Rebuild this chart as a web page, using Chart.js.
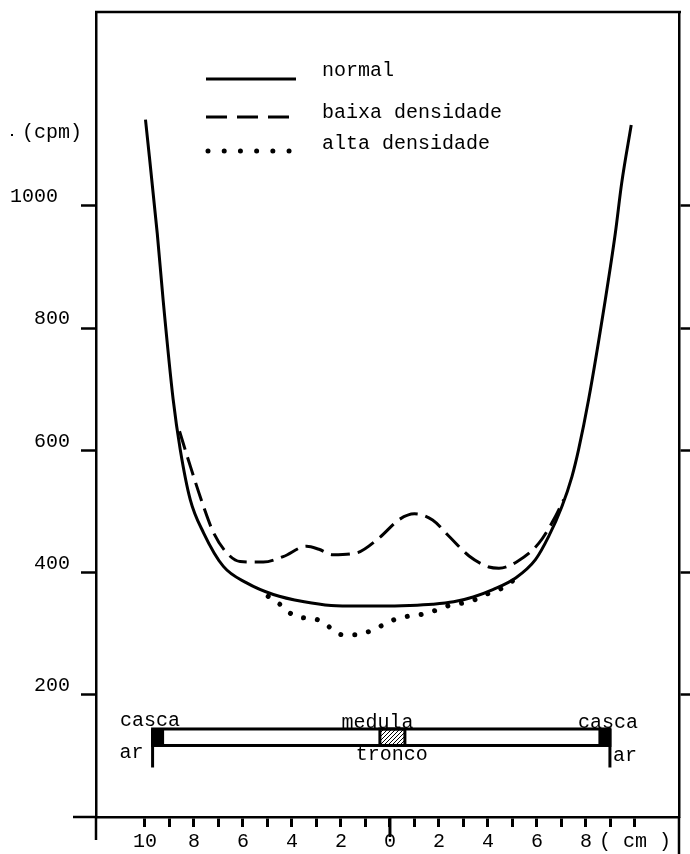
<!DOCTYPE html>
<html>
<head>
<meta charset="utf-8">
<script src="https://cdn.jsdelivr.net/npm/chart.js@4.4.1/dist/chart.umd.min.js"></script>
<style>
  html, body { margin: 0; padding: 0; background: #fff; }
  #wrap { width: 690px; height: 854px; }
</style>
</head>
<body>
<div id="wrap"><canvas id="grafico" width="690" height="854"></canvas></div>
<script>
// DADOS: posição no tronco (cm) x contagem (cpm)
const seriesNames = ['normal', 'baixa densidade', 'alta densidade']

const normalX = [-9.98, -9.5, -9.26, -8.85, -8.56, -8.15, -7.61, -6.8, -5.85, -4.76, -3.5, -2.4, -1.3, -0.3, 0.8, 1.74, 2.6, 3.4, 4.2, 5.13, 5.94, 6.48, 7.02, 7.43, 7.7, 8.11, 8.79, 9.2, 9.46, 9.85]
const normalY = [1141, 955, 846, 683, 601, 519, 465, 410, 383, 364, 352, 346, 345, 345, 346, 348, 352, 360, 372, 391, 421, 459, 508, 557, 601, 683, 846, 955, 1037, 1132]

const baixaX = [-8.59, -8.15, -7.61, -7.2, -6.66, -6.12, -5.17, -4.36, -3.4, -2.9, -2.33, -1.37, -0.43, 0.39, 1.0, 1.74, 2.42, 3.23, 4.04, 4.45, 5.2, 6.08, 6.76, 7.09]
const baixaY = [631, 574, 508, 465, 432, 418, 417, 426, 443, 438, 429, 432, 457, 487, 496, 486, 459, 427, 409, 407, 418, 448, 492, 519]

const altaX = [-4.97, -4.49, -4.09, -3.75, -3.2, -2.73, -2.33, -1.92, -1.35, -0.76, -0.29, 0.18, 0.68, 1.36, 1.94, 2.49, 3.1, 3.57, 3.98, 4.45, 4.79, 5.06]
const altaY = [361, 348, 334, 327, 325, 319, 306, 298, 298, 305, 314, 323, 328, 332, 339, 347, 351, 357, 365, 372, 379, 388]

// ticks
const xTicks = [-10, -9, -8, -7, -6, -5, -4, -3, -2, -1, 0, 1, 2, 3, 4, 5, 6, 7, 8, 9, 10]
const xTickLabels = ['10', '', '8', '', '6', '', '4', '', '2', '', '0', '', '2', '', '4', '', '6', '', '8', '', '( cm )']
const yTicks = [200, 400, 600, 800, 1000]
const yTickLabels = ['200', '400', '600', '800', '1000 ']

// esquema do tronco (em cm / cpm)
const tronco = { x0: -9.69, x1: 8.98, casca: 0.47, medula: [-0.41, 0.61], yTop: 144, yBot: 117, arFim: 81 }

const FONTE = "'Liberation Mono', 'DejaVu Sans Mono', monospace"
Chart.defaults.font.family = FONTE
Chart.defaults.font.size = 20
Chart.defaults.color = '#000'

const pontos = (xs, ys) => xs.map((v, i) => ({ x: v, y: ys[i] }))

function line(ctx, x1, y1, x2, y2) {
  ctx.beginPath(); ctx.moveTo(x1, y1); ctx.lineTo(x2, y2); ctx.stroke()
}

function texto(ctx, s, x, y, align) {
  ctx.textAlign = align || 'center'
  ctx.textBaseline = 'middle'
  ctx.fillText(s, x, y)
}

// padrão pontilhado da medula
function padraoMedula(ctx) {
  const c = document.createElement('canvas')
  c.width = 4; c.height = 4
  const p = c.getContext('2d')
  p.fillStyle = '#000'
  p.fillRect(0, 0, 1, 1); p.fillRect(2, 2, 1, 1); p.fillRect(1, 3, 1, 1); p.fillRect(3, 1, 1, 1)
  return ctx.createPattern(c, 'repeat')
}

// sem folga extra nos extremos dos eixos
const semFolga = s => { s.paddingTop = 0; s.paddingBottom = 0; s.paddingLeft = 0; s.paddingRight = 0 }

const extras = {
  id: 'extras',
  afterDraw(chart) {
    const { ctx, chartArea: a } = chart
    const x = chart.scales.x, y = chart.scales.y
    ctx.save()
    ctx.strokeStyle = '#000'
    ctx.fillStyle = '#000'
    ctx.font = '20px ' + FONTE

    // moldura e prolongamentos dos eixos
    ctx.lineWidth = 2.5
    line(ctx, a.left - 1, a.top, a.right + 2, a.top)
    line(ctx, a.left - 23, a.bottom, a.left, a.bottom)
    line(ctx, a.left, a.bottom, a.left, a.bottom + 23)
    line(ctx, a.right, a.bottom, a.right, chart.height)
    ctx.lineWidth = 3
    const x0 = x.getPixelForValue(0)
    line(ctx, x0, a.bottom, x0, a.bottom + 20)

    // unidade do eixo y
    texto(ctx, '(cpm)', 22, 133, 'left')
    ctx.fillRect(11, 134, 2, 2)

    // legenda
    chart.data.datasets.forEach((ds, i) => {
      const ly = [79, 117, 151][i]
      ctx.lineWidth = ds.borderWidth
      ctx.lineCap = ds.borderCapStyle || 'butt'
      ctx.setLineDash(i === 1 ? [21, 10] : (i === 2 ? [0.01, 16.2] : []))
      line(ctx, i === 2 ? 208 : 206, ly, 296, ly)
      ctx.setLineDash([])
      ctx.lineCap = 'butt'
      texto(ctx, ds.label, 322, [71, 113, 144][i], 'left')
    })

    // esquema do tronco
    const tx0 = x.getPixelForValue(tronco.x0), tx1 = x.getPixelForValue(tronco.x1)
    const tTop = y.getPixelForValue(tronco.yTop), tBot = y.getPixelForValue(tronco.yBot)
    const cw = x.getPixelForValue(tronco.x0 + tronco.casca) - tx0
    ctx.lineWidth = 3
    ctx.strokeRect(tx0, tTop, tx1 - tx0, tBot - tTop)
    ctx.fillRect(tx0, tTop, cw, tBot - tTop)
    ctx.fillRect(tx1 - cw, tTop, cw, tBot - tTop)
    const m0 = x.getPixelForValue(tronco.medula[0]), m1 = x.getPixelForValue(tronco.medula[1])
    ctx.fillStyle = padraoMedula(ctx)
    ctx.fillRect(m0, tTop, m1 - m0, tBot - tTop)
    ctx.fillStyle = '#000'
    ctx.strokeRect(m0, tTop, m1 - m0, tBot - tTop)
    const arY = y.getPixelForValue(tronco.arFim)
    line(ctx, tx0, tTop, tx0, arY)
    line(ctx, tx1, tTop, tx1, arY)

    texto(ctx, 'casca', x.getPixelForValue(-9.8), y.getPixelForValue(158))
    texto(ctx, 'ar', x.getPixelForValue(-10.55), y.getPixelForValue(105))
    texto(ctx, 'medula', x.getPixelForValue(-0.51), y.getPixelForValue(155))
    texto(ctx, 'tronco', x.getPixelForValue(0.07), y.getPixelForValue(102))
    texto(ctx, 'casca', x.getPixelForValue(8.9), y.getPixelForValue(154))
    texto(ctx, 'ar', x.getPixelForValue(9.6), y.getPixelForValue(100))
    ctx.restore()
  }
}

const linhaBase = { fill: false, pointRadius: 0, borderColor: '#000', cubicInterpolationMode: 'monotone' }

new Chart(document.querySelector('#grafico'), {
  type: 'line',
  data: {
    datasets: [
      { ...linhaBase, label: seriesNames[0], data: pontos(normalX, normalY), borderWidth: 3 },
      { ...linhaBase, label: seriesNames[1], data: pontos(baixaX, baixaY), borderWidth: 3, borderDash: [19, 8] },
      { ...linhaBase, label: seriesNames[2], data: pontos(altaX, altaY), borderWidth: 5, borderDash: [0.01, 14], borderCapStyle: 'round' }
    ]
  },
  options: {
    responsive: false,
    animation: false,
    layout: { padding: { top: 12, left: 0, right: 0, bottom: 0 } },
    plugins: { legend: { display: false }, tooltip: { enabled: false } },
    scales: {
      x: {
        type: 'linear', position: 'bottom', min: -12, max: 11.8,
        afterBuildTicks: s => { s.ticks = xTicks.map(v => ({ value: v })) },
        afterFit: s => { s.height = 37; semFolga(s) },
        ticks: {
          autoSkip: false, maxRotation: 0, padding: 3,
          callback: (v) => xTickLabels[xTicks.indexOf(v)]
        },
        grid: { drawOnChartArea: false, tickLength: 10, tickWidth: 3, tickColor: '#000' },
        border: { display: true, color: '#000', width: 2.5 }
      },
      y: {
        type: 'linear', position: 'left', min: 0, max: 1317,
        afterBuildTicks: s => { s.ticks = yTicks.map(v => ({ value: v })) },
        afterFit: s => { s.width = 96; semFolga(s) },
        ticks: {
          padding: 11, labelOffset: -9,
          callback: (v) => yTickLabels[yTicks.indexOf(v)]
        },
        grid: { drawOnChartArea: false, tickLength: 15, tickWidth: 2.5, tickColor: '#000' },
        border: { display: true, color: '#000', width: 2.5 }
      },
      y2: {
        type: 'linear', position: 'right', min: 0, max: 1317,
        afterBuildTicks: s => { s.ticks = yTicks.map(v => ({ value: v })) },
        afterFit: s => { s.width = 11; semFolga(s) },
        ticks: { display: false },
        grid: { drawOnChartArea: false, tickLength: 11, tickWidth: 2.5, tickColor: '#000' },
        border: { display: true, color: '#000', width: 2.5 }
      }
    }
  },
  plugins: [extras]
})
</script>
</body>
</html>
